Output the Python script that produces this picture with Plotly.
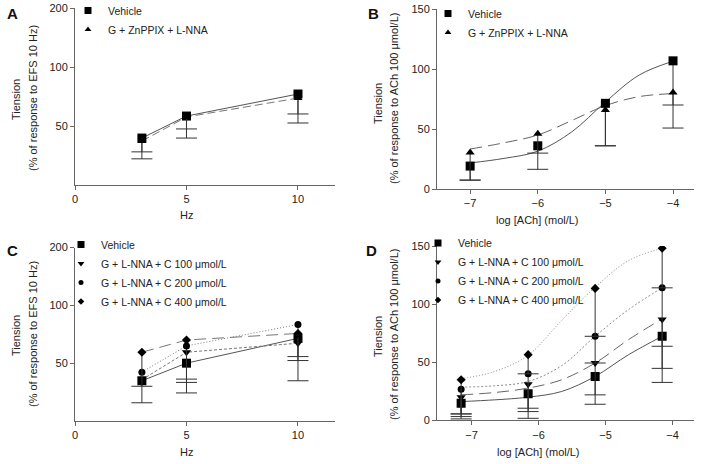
import math
import plotly.graph_objects as go

W, H = 702, 464

# === Panel A: EFS response (Hz) ===
hz = [3, 5, 10]
a_vehicle = [43.4, 56.2, 72.8]
a_vehicle_low = [34.0, 43.4, 51.8]
a_znppix = [41.9, 55.6, 69.4]
a_znppix_low = [36.9, 48.3, 57.6]

# === Panel B: ACh response ===
ach_b = [-7, -6, -5, -4]
b_vehicle = [19.1, 36.0, 71.4, 106.8]
b_vehicle_low = [7.3, 16.4, 36.0, 50.8]
b_znppix = [30.5, 46.0, 65.8, 80.5]
b_znppix_low = [7.5, 29.9, 36.0, 70.0]
# fitted curves
fit_b = [-7, -6.5, -6, -5.5, -5, -4.5, -4]
b_vehicle_fit = [21.7, 25.5, 31.5, 47.5, 72.5, 95.0, 106.5]
b_znppix_fit = [33.3, 38.5, 45.0, 57.0, 69.5, 77.0, 79.5]

# === Panel C: EFS response with C ===
c_vehicle = [40.5, 50.0, 67.3]
c_vehicle_low = [31.1, 35.0, 40.5]
c_c100 = [41.0, 57.0, 63.5]
c_c100_low = [None, 41.3, 51.6]
c_c200 = [44.9, 61.5, 79.5]
c_c200_low = [None, 39.7, 54.1]
c_c400 = [57.0, 66.0, 71.4]
c_c400_low = [37.9, None, None]

# === Panel D: ACh response with C ===
ach_d = [-7.155, -6.155, -5.155, -4.155]
d_vehicle = [14.7, 22.8, 37.8, 72.3]
d_vehicle_low = [5.5, 10.4, 21.9, 44.7]
d_c100 = [19.9, 31.0, 49.3, 86.7]
d_c100_low = [3.2, 7.5, 13.8, 32.6]
d_c200 = [26.8, 40.0, 72.3, 114.0]
d_c200_low = [5.5, 1.7, 49.3, 63.7]
d_c400 = [34.9, 56.5, 113.5, 148.0]
d_c400_low = [1.2, 40.0, 72.3, 114.0]
fit_d = [-7.155, -6.655, -6.155, -5.655, -5.155, -4.655, -4.155]
d_vehicle_fit = [16.1, 17.6, 19.9, 24.8, 37.8, 56.5, 72.3]
d_c100_fit = [21.9, 23.9, 27.7, 34.9, 49.3, 69.5, 87.3]
d_c200_fit = [28.5, 29.7, 33.4, 47.0, 72.3, 95.4, 114.0]
d_c400_fit = [35.8, 42.0, 56.0, 86.0, 114.5, 137.5, 148.0]

FONT = "Liberation Sans, Arial, sans-serif"
TXT = "#222"
AX = "#666"


# pixel -> paper fraction
def px(x):
    return x / W


def py(y):
    return 1 - y / H


fig = go.Figure()


def add_line(x, y, xa, ya, dash, color="#555"):
    fig.add_trace(go.Scatter(x=x, y=y, xaxis=xa, yaxis=ya, mode="lines",
                             line=dict(color=color, width=1, dash=dash, shape="linear"),
                             showlegend=False, hoverinfo="skip"))


def add_fit(x, y, xa, ya, dash, color="#555"):
    fig.add_trace(go.Scatter(x=x, y=y, xaxis=xa, yaxis=ya, mode="lines",
                             line=dict(color=color, width=1, dash=dash, shape="spline", smoothing=1.0),
                             showlegend=False, hoverinfo="skip"))


def add_points(name, x, y, low, symbol, size, xa, ya, legend):
    err = [(v - l) if l is not None else None for v, l in zip(y, low)]
    # lower caps of the one-sided error bars
    fig.add_trace(go.Scatter(x=x, y=low, xaxis=xa, yaxis=ya, mode="markers",
                             marker=dict(symbol="line-ew", size=15, line=dict(color="#333", width=1)),
                             showlegend=False, hoverinfo="skip"))
    fig.add_trace(go.Scatter(x=x, y=y, xaxis=xa, yaxis=ya, mode="markers", name=name,
                             marker=dict(symbol=symbol, size=size, color="#000"),
                             error_y=dict(type="data", symmetric=False, array=[0] * len(y),
                                          arrayminus=err, width=0, thickness=1, color="#333"),
                             showlegend=False))
    # legend key with a smaller symbol, as in the original
    fig.add_trace(go.Scatter(x=[None], y=[None], xaxis=xa, yaxis=ya, mode="markers", name=name,
                             marker=dict(symbol=symbol, size=size - 2, color="#000"),
                             legend=legend, showlegend=True))


# Panel A
add_line(hz, a_vehicle, "x", "y", "solid")
add_line(hz, a_znppix, "x", "y", "8px,4px", "#777")
add_points("Vehicle", hz, a_vehicle, a_vehicle_low, "square", 9, "x", "y", "legend")
add_points("G + ZnPPIX + L-NNA", hz, a_znppix, a_znppix_low, "triangle-up", 8, "x", "y", "legend")

# Panel B
add_fit(fit_b, b_vehicle_fit, "x2", "y2", "solid")
add_fit(fit_b, b_znppix_fit, "x2", "y2", "12px,6px", "#666")
add_points("Vehicle", ach_b, b_vehicle, b_vehicle_low, "square", 9, "x2", "y2", "legend2")
add_points("G + ZnPPIX + L-NNA", ach_b, b_znppix, b_znppix_low, "triangle-up", 8, "x2", "y2", "legend2")

# Panel C
add_line(hz, c_vehicle, "x3", "y3", "solid")
add_line(hz, c_c100, "x3", "y3", "3px,2px", "#777")
add_line(hz, c_c200, "x3", "y3", "1px,2px", "#777")
add_line(hz, c_c400, "x3", "y3", "12px,6px", "#777")
add_points("Vehicle", hz, c_vehicle, c_vehicle_low, "square", 9, "x3", "y3", "legend3")
add_points("G + L-NNA + C 100 μmol/L", hz, c_c100, c_c100_low, "triangle-down", 8, "x3", "y3", "legend3")
add_points("G + L-NNA + C 200 μmol/L", hz, c_c200, c_c200_low, "circle", 7, "x3", "y3", "legend3")
add_points("G + L-NNA + C 400 μmol/L", hz, c_c400, c_c400_low, "diamond", 7, "x3", "y3", "legend3")

# Panel D
add_fit(fit_d, d_vehicle_fit, "x4", "y4", "solid")
add_fit(fit_d, d_c100_fit, "x4", "y4", "12px,6px", "#666")
add_fit(fit_d, d_c200_fit, "x4", "y4", "2px,2px", "#888")
add_fit(fit_d, d_c400_fit, "x4", "y4", "1px,2px", "#888")
add_points("Vehicle", ach_d, d_vehicle, d_vehicle_low, "square", 9, "x4", "y4", "legend4")
add_points("G + L-NNA + C 100 μmol/L", ach_d, d_c100, d_c100_low, "triangle-down", 8, "x4", "y4", "legend4")
add_points("G + L-NNA + C 200 μmol/L", ach_d, d_c200, d_c200_low, "circle", 7, "x4", "y4", "legend4")
add_points("G + L-NNA + C 400 μmol/L", ach_d, d_c400, d_c400_low, "diamond", 7, "x4", "y4", "legend4")

axis_style = dict(showline=True, linecolor=AX, linewidth=1, ticks="outside", ticklen=4,
                  tickcolor=AX, showgrid=False, zeroline=False,
                  tickfont=dict(family=FONT, size=11, color=TXT))

legend_style = dict(bgcolor="rgba(0,0,0,0)", font=dict(family=FONT, size=10.5, color=TXT),
                    xanchor="left", yanchor="top")

fig.update_layout(
    width=W, height=H,
    margin=dict(l=0, r=0, t=0, b=0, autoexpand=False),
    paper_bgcolor="white", plot_bgcolor="white",
    font=dict(family=FONT, color=TXT),
    xaxis=dict(domain=[px(75), px(335)], range=[0, 11.66], tickvals=[0, 5, 10], anchor="y", **axis_style),
    yaxis=dict(domain=[py(185), py(8)], type="log", range=[math.log10(25), math.log10(200)],
               tickvals=[50, 100, 200], anchor="x", **axis_style),
    xaxis2=dict(domain=[px(437), px(694)], range=[-7.49, -3.69], tickvals=[-7, -6, -5, -4], anchor="y2", **axis_style),
    yaxis2=dict(domain=[py(189), py(9)], range=[0, 150], tickvals=[0, 50, 100, 150], anchor="x2", **axis_style),
    xaxis3=dict(domain=[px(75), px(335)], range=[0, 11.66], tickvals=[0, 5, 10], anchor="y3", **axis_style),
    yaxis3=dict(domain=[py(421), py(247.5)], type="log", range=[math.log10(25), math.log10(200)],
                tickvals=[50, 100, 200], anchor="x3", **axis_style),
    xaxis4=dict(domain=[px(437), px(694)], range=[-7.515, -3.68], tickvals=[-7, -6, -5, -4], anchor="y4", **axis_style),
    yaxis4=dict(domain=[py(420.3), py(246)], range=[0, 150], tickvals=[0, 50, 100, 150], anchor="x4", **axis_style),
    legend=dict(x=px(68), y=py(-4), **legend_style),
    legend2=dict(x=px(428), y=py(-1), **legend_style),
    legend3=dict(x=px(61), y=py(230), **legend_style),
    legend4=dict(x=px(418), y=py(228.5), **legend_style),
)

annotations = []
# panel letters
for letter, x, y in [("A", 12, 14), ("B", 373, 14), ("C", 12, 250), ("D", 371, 250)]:
    annotations.append(dict(text="<b>%s</b>" % letter, x=px(x), y=py(y), xref="paper", yref="paper",
                            showarrow=False, xanchor="center", yanchor="middle",
                            font=dict(family=FONT, size=15, color="#111")))

# y titles (two lines each)
ytitles = [
    ("Tiension", 16, 100), ("(% of response to EFS 10 Hz)", 33, 98),
    ("Tiension", 378, 104), ("(% of response to ACh 100 μmol/L)", 394, 99),
    ("Tiension", 16, 336), ("(% of response to EFS 10 Hz)", 33, 334),
    ("Tiension", 378, 337), ("(% of response to ACh 100 μmol/L)", 394, 335),
]
for text, x, y in ytitles:
    annotations.append(dict(text=text, x=px(x), y=py(y), xref="paper", yref="paper", textangle=-90,
                            showarrow=False, xanchor="center", yanchor="middle",
                            font=dict(family=FONT, size=11, color=TXT)))

# x titles
xtitles = [("Hz", 187, 215), ("log [ACh] (mol/L)", 537, 220), ("Hz", 187, 452), ("log [ACh] (mol/L)", 538, 452)]
for text, x, y in xtitles:
    annotations.append(dict(text=text, x=px(x), y=py(y), xref="paper", yref="paper",
                            showarrow=False, xanchor="center", yanchor="middle",
                            font=dict(family=FONT, size=11, color=TXT)))

fig.update_layout(annotations=annotations)

# drop the browser's default 8px body margin so the figure sits at the page corner
fig.write_html("out.html", config={"displayModeBar": False},
               post_script="document.body.style.margin = '0';")
